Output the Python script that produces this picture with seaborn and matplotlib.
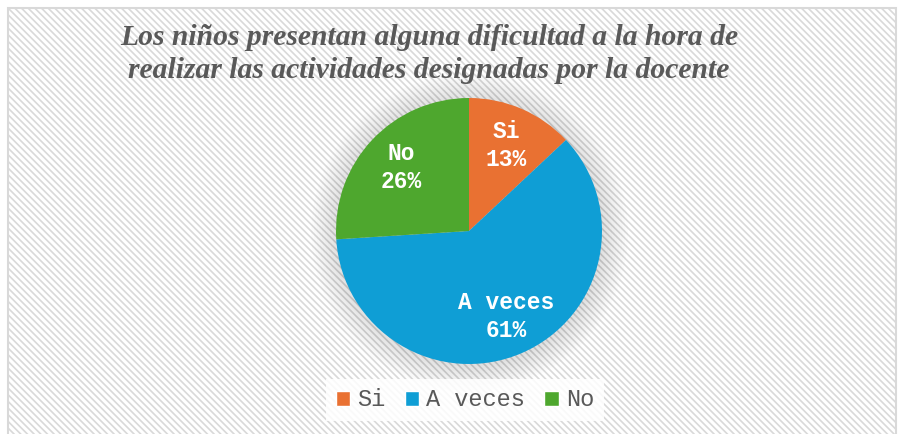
import matplotlib.pyplot as plt
import seaborn as sns
from matplotlib.patches import Rectangle, Circle, Patch

# Datos del grafico
categorias = ["Si", "A veces", "No"]
porcentajes = [13, 61, 26]
colores = ["#E97132", "#0F9ED5", "#4EA72E"]
titulo = ("Los niños presentan alguna dificultad a la hora de\n"
          "realizar las actividades designadas por la docente")

sns.set_theme(style="white")
plt.rcParams['hatch.linewidth'] = 1.2
plt.rcParams['hatch.color'] = "#f4f4f4"

fig = plt.figure(figsize=(8.99, 4.34), dpi=100)

# fondo con rayas diagonales y borde
bg = fig.add_axes([0, 0, 1, 1], zorder=-1)
bg.set_axis_off()
bg.set_xlim(0, 899)
bg.set_ylim(434, 0)
bg.add_patch(Rectangle((8, 8), 888, 440, facecolor="white",
                       edgecolor="#d9d9d9", linewidth=1.5, hatch="\\\\\\\\\\"))

fig.text(0.477, 1 - 24 / 434, titulo, ha="center", va="top",
         family="Liberation Serif", fontsize=21.3, fontweight="bold",
         fontstyle="italic", color="#595959", linespacing=1.3)

r = 133
cx, cy = 469, 231
ax = fig.add_axes([(cx - r) / 899, (434 - cy - r) / 434, 2 * r / 899, 2 * r / 434])
ax.patch.set_alpha(0)

# sombra suave
for i in range(10):
    ax.add_patch(Circle((0.005, -0.01), 1.19 - i * 0.02, color="black",
                        alpha=0.012, lw=0, clip_on=False, zorder=0))

cont = iter(range(len(categorias)))


def etiqueta(p):
    return f"{categorias[next(cont)]}\n{p:.0f}%"


wedges, _, autotexts = ax.pie(porcentajes, colors=colores, startangle=90,
                              counterclock=False, autopct=etiqueta,
                              pctdistance=0.7, wedgeprops=dict(linewidth=0))
for t in autotexts:
    t.set_color("white")
    t.set_family("Liberation Mono")
    t.set_fontweight("bold")
    t.set_fontsize(16.5)
    t.set_linespacing(1.25)
ax.set_xlim(-1, 1)
ax.set_ylim(-1, 1)

handles = [Patch(facecolor=c, label=l) for c, l in zip(colores, categorias)]
leg = fig.legend(handles=handles, loc="center", bbox_to_anchor=(465 / 899, 1 - 400 / 434),
                 ncol=3, frameon=True, fancybox=False, edgecolor="none",
                 facecolor="white", framealpha=0.85, handlelength=0.62,
                 handleheight=0.62, handletextpad=0.3, columnspacing=0.8,
                 prop=dict(family="Liberation Mono", size=17))
for t in leg.get_texts():
    t.set_color("#595959")

fig.savefig("out.png", dpi=100)
